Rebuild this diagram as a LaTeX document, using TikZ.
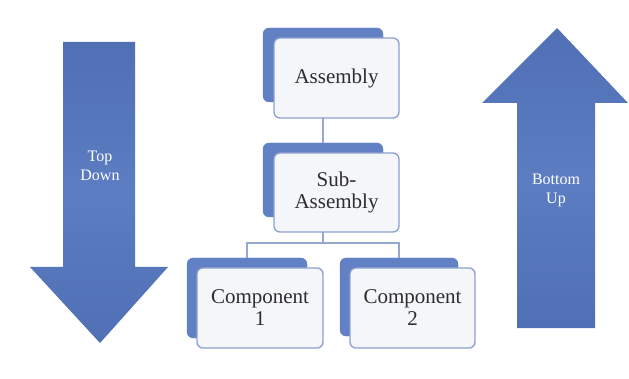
\documentclass[tikz,border=0pt]{standalone}
\usepackage{fontspec}
\setmainfont{Liberation Serif}
\definecolor{arrowblue}{RGB}{80,111,181}
\definecolor{arrowmid}{RGB}{92,125,194}
\definecolor{backblue}{RGB}{98,128,196}
\definecolor{frontfill}{RGB}{244,246,250}
\definecolor{frontline}{RGB}{140,160,206}
\definecolor{linkcol}{RGB}{150,168,208}
\definecolor{txt}{RGB}{45,45,45}
\begin{document}
\begin{tikzpicture}[x=1pt,y=-1pt,
  backbox/.style={draw=backblue,fill=backblue,rounded corners=6pt,inner sep=0pt},
  frontbox/.style={draw=frontline,line width=1.3pt,fill=frontfill,rounded corners=6pt,inner sep=0pt,
     align=center,text=txt,font=\fontsize{21}{22}\selectfont},
  link/.style={draw=linkcol,line width=1.6pt},
  arrowtext/.style={text=white,align=center,font=\fontsize{16}{19}\selectfont},
  bigarrow/.style={top color=arrowblue,bottom color=arrowblue,middle color=arrowmid,draw=none}
]
\useasboundingbox[fill=white] (0,0) rectangle (629,379);

% arrows
\path[bigarrow] (63,42) -- (135,42) -- (135,267) -- (168,267) -- (100,343) -- (30,267) -- (63,267) -- cycle;
\path[bigarrow] (557,28) -- (628,103) -- (595,103) -- (595,328) -- (517,328) -- (517,103) -- (482,103) -- cycle;
\node[arrowtext] (td) at (100,166) {Top\\Down};
\node[arrowtext] (bu) at (556,190) {Bottom\\Up};

% back boxes
\node[backbox,minimum width=120pt,minimum height=74pt] (ab) at (323,65) {};
\node[backbox,minimum width=120pt,minimum height=74pt] (sb) at (323,180) {};
\node[backbox,minimum width=120pt,minimum height=80pt] (c1b) at (247,298) {};
\node[backbox,minimum width=118pt,minimum height=78pt] (c2b) at (399,297) {};

% connectors
\coordinate (split) at (323,243);
\draw[link] (ab.south) -- (sb.north);
\draw[link] (sb.south) -- (split);
\draw[link] (split) -| (c1b.north);
\draw[link] (split) -| (c2b.north);

% front boxes
\node[frontbox,minimum width=125pt,minimum height=80pt] (a) at (336.5,78) {Assembly};
\node[frontbox,minimum width=125pt,minimum height=79pt] (s) at (336.5,192.5) {Sub-\\Assembly};
\node[frontbox,minimum width=126pt,minimum height=80pt] (c1) at (260,308) {Component\\1};
\node[frontbox,minimum width=125pt,minimum height=80pt] (c2) at (412.5,308) {Component\\2};
\end{tikzpicture}
\end{document}
